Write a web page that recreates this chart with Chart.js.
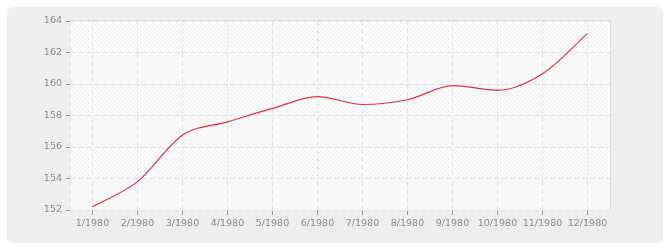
<!DOCTYPE html>
<html>
<head>
<meta charset="utf-8">
<script src="https://cdn.jsdelivr.net/npm/chart.js@4/dist/chart.umd.min.js"></script>
<style>
  html, body { margin: 0; padding: 0; background: #fff; }
  #wrap { width: 670px; height: 250px; position: relative; }
</style>
</head>
<body>
<div id="wrap"><canvas id="chart" width="670" height="250"></canvas></div>
<script>
// values
const months = ['1/1980', '2/1980', '3/1980', '4/1980', '5/1980', '6/1980',
  '7/1980', '8/1980', '9/1980', '10/1980', '11/1980', '12/1980'];
const population = [152.2, 153.8, 156.75, 157.6, 158.45, 159.2,
  158.7, 159.0, 159.9, 159.6, 160.65, 163.2];
const yMin = 152;
const yMax = 164;
const yStep = 2;

// hatch pattern for plot background
const makeHatch = () => {
  const p = document.createElement('canvas');
  p.width = 4; p.height = 4;
  const c = p.getContext('2d');
  c.fillStyle = '#ffffff';
  c.fillRect(0, 0, 4, 4);
  c.strokeStyle = '#ececec';
  c.lineWidth = 1;
  c.beginPath();
  c.moveTo(0, 4); c.lineTo(4, 0);
  c.moveTo(-1, 1); c.lineTo(1, -1);
  c.moveTo(3, 5); c.lineTo(5, 3);
  c.stroke();
  return p;
};

const backdrop = {
  id: 'backdrop',
  beforeDraw(chart) {
    const { ctx, chartArea: a, scales: { y } } = chart;
    ctx.save();
    // outer grey box
    ctx.fillStyle = '#eeeeee';
    ctx.beginPath();
    ctx.roundRect(7, 7, 656, 236, 6);
    ctx.fill();
    // plot area with hatching
    ctx.fillStyle = ctx.createPattern(makeHatch(), 'repeat');
    ctx.fillRect(a.left, a.top, a.right - a.left, a.bottom - a.top);
    // alternating bands
    ctx.fillStyle = 'rgba(246,246,246,0.7)';
    for (let v = yMin; v < yMax; v += 2 * yStep) {
      const top = y.getPixelForValue(v + yStep);
      const bot = y.getPixelForValue(v);
      ctx.fillRect(a.left, top, a.right - a.left, bot - top);
    }
    // frame: solid top/right, dashed left
    ctx.strokeStyle = '#dddddd';
    ctx.lineWidth = 1;
    ctx.beginPath();
    ctx.moveTo(a.left, a.top - 0.5);
    ctx.lineTo(a.right + 0.5, a.top - 0.5);
    ctx.lineTo(a.right + 0.5, a.bottom);
    ctx.stroke();
    ctx.strokeStyle = '#e2e2e2';
    ctx.setLineDash([5, 3]);
    ctx.beginPath();
    ctx.moveTo(a.left + 0.5, a.top);
    ctx.lineTo(a.left + 0.5, a.bottom);
    ctx.stroke();
    ctx.restore();
  }
};

const tickFont = { family: 'DejaVu Sans', size: 9.5 };

new Chart(document.getElementById('chart'), {
  type: 'line',
  data: {
    labels: months,
    datasets: [{
      data: population,
      borderColor: '#d93448',
      borderWidth: 1.2,
      pointRadius: 0,
      cubicInterpolationMode: 'monotone',
      fill: false
    }]
  },
  options: {
    responsive: false,
    animation: false,
    devicePixelRatio: 1,
    layout: { padding: { left: 0, top: 21, right: 60, bottom: 0 } },
    plugins: { legend: { display: false }, tooltip: { enabled: false } },
    scales: {
      x: {
        offset: true,
        grid: { color: '#e2e2e2', offset: false, tickLength: 5, tickColor: '#999999' },
        border: { display: false, dash: [5, 3] },
        ticks: { font: tickFont, color: '#8c8c8c', padding: 3, maxRotation: 0, autoSkip: false },
        afterFit: (s) => { s.height = 40; }
      },
      y: {
        min: yMin,
        max: yMax,
        grid: { color: '#e2e2e2', tickLength: 4, tickColor: '#999999' },
        border: { display: false, dash: [5, 3] },
        ticks: { font: tickFont, color: '#8c8c8c', stepSize: yStep, padding: 4 },
        afterFit: (s) => { s.width = 70; }
      }
    }
  },
  plugins: [backdrop]
});
</script>
</body>
</html>
